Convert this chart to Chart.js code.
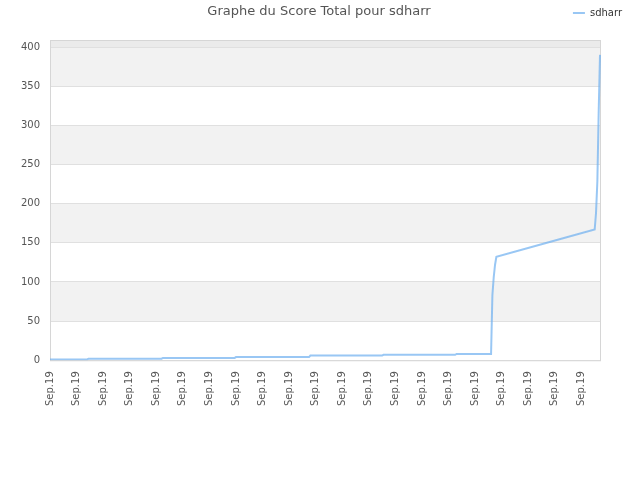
<!DOCTYPE html>
<html>
<head>
<meta charset="utf-8">
<script src="https://cdn.jsdelivr.net/npm/chart.js@4.4.1/dist/chart.umd.min.js"></script>
<style>
  html, body { margin: 0; padding: 0; background: #fff; }
  #wrap { width: 640px; height: 480px; position: relative; }
</style>
</head>
<body>
<div id="wrap"><canvas id="scoreChart"></canvas></div>
<script>
// score history, one label per sample
const pointCount = 415;
const dayLabels = Array(pointCount).fill("Sep.19");

// key samples (index on the x axis, score)
const sampleIndex = [0, 28, 29, 84, 85, 139, 140, 195, 196, 250, 251, 305, 306, 332, 333, 334, 335, 336, 372, 410, 411, 412, 413, 414];
const sampleScore = [1, 1, 2, 2, 3, 3, 4, 4, 6, 6, 7, 7, 8, 8, 83, 106, 122, 132, 149, 167, 188, 228, 316, 390];

const yTicks = [0, 50, 100, 150, 200, 250, 300, 350, 400];

// sparse series, the line spans the gaps
const scoreData = new Array(pointCount).fill(null);
sampleIndex.forEach((idx, i) => { scoreData[idx] = sampleScore[i]; });

Chart.defaults.font.family = "'DejaVu Sans', sans-serif";

// alternating background bands + frame
const bands = {
  id: 'bands',
  beforeDraw(chart) {
    const { ctx, chartArea: a, scales: { y } } = chart;
    ctx.save();
    ctx.fillStyle = '#fff';
    ctx.fillRect(0, 0, chart.width, chart.height);
    for (let i = 0; i < yTicks.length; i++) {
      const bottom = y.getPixelForValue(yTicks[i]);
      const top = i + 1 < yTicks.length ? y.getPixelForValue(yTicks[i + 1]) : a.top;
      if (i === yTicks.length - 1) ctx.fillStyle = '#ebebeb';
      else if (i % 2 === 1) ctx.fillStyle = '#f2f2f2';
      else continue;
      ctx.fillRect(a.left, top, a.right - a.left, bottom - top);
    }
    ctx.restore();
  },
  beforeDatasetsDraw(chart) {
    const { ctx, chartArea: a } = chart;
    ctx.save();
    ctx.strokeStyle = '#d6d6d6';
    ctx.lineWidth = 1;
    ctx.strokeRect(a.left + 0.5, a.top + 0.5, a.right - a.left, a.bottom - a.top);
    ctx.restore();
  }
};

new Chart(document.getElementById('scoreChart'), {
  type: 'line',
  data: {
    labels: dayLabels,
    datasets: [{
      label: 'sdharr',
      data: scoreData,
      borderColor: 'rgba(110,175,240,0.7)',
      backgroundColor: 'rgba(110,175,240,0.7)',
      borderWidth: 2,
      pointRadius: 0,
      tension: 0,
      fill: false,
      spanGaps: true
    }]
  },
  plugins: [bands],
  options: {
    animation: false,
    responsive: true,
    maintainAspectRatio: false,
    devicePixelRatio: 1,
    layout: { padding: { top: 0, left: 8, right: 10, bottom: 63 } },
    plugins: {
      tooltip: { enabled: false },
      legend: {
        position: 'top',
        align: 'end',
        labels: {
          usePointStyle: true,
          pointStyle: 'line',
          pointStyleWidth: 12,
          padding: 8,
          color: '#333',
          font: { size: 10 }
        }
      },
      title: {
        display: true,
        text: 'Graphe du Score Total pour sdharr',
        color: '#555',
        weight: 500,
        font: { size: 13, weight: 'normal' },
        padding: { top: -23.8, bottom: 20.2 }
      }
    },
    scales: {
      x: {
        grid: { display: false, drawTicks: false },
        border: { display: false },
        ticks: {
          color: '#555',
          font: { size: 10 },
          minRotation: 90,
          maxRotation: 90,
          autoSkip: true,
          maxTicksLimit: 21,
          padding: 11
        }
      },
      y: {
        min: 0,
        max: 409,
        grid: { color: '#e0e0e0', drawTicks: false },
        border: { display: false },
        ticks: {
          stepSize: 50,
          includeBounds: false,
          color: '#555',
          font: { size: 10 },
          padding: 10
        },
        afterFit(scale) { scale.width = 42; }
      },
      yRight: {
        type: 'linear',
        position: 'right',
        grid: { display: false, drawTicks: false },
        border: { display: false },
        ticks: { display: false },
        afterFit(scale) { scale.width = 30; }
      }
    }
  }
});
</script>
</body>
</html>
